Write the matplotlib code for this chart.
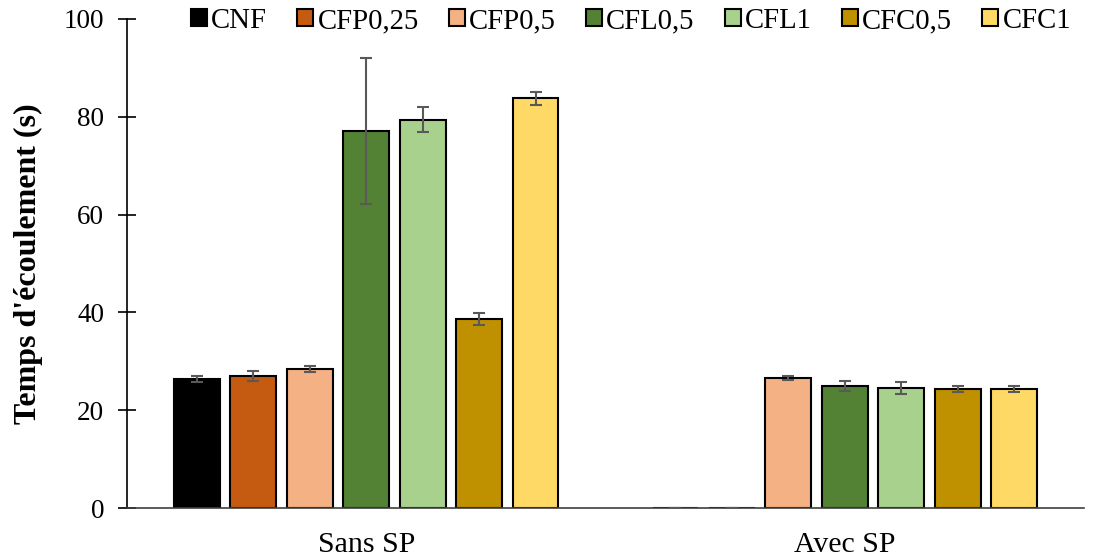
import matplotlib
matplotlib.use('Agg')
import numpy as np
import matplotlib.pyplot as plt

# données
groups = ["Sans SP", "Avec SP"]
series = ["CNF", "CFP0,25", "CFP0,5", "CFL0,5", "CFL1", "CFC0,5", "CFC1"]
colors = ["#000000", "#C55A11", "#F4B183", "#548235", "#A9D18E", "#BF9000", "#FFD966"]

cnf = [26.4, 0]
cfp025 = [27.0, 0]
cfp05 = [28.4, 26.6]
cfl05 = [77.1, 24.9]
cfl1 = [79.4, 24.6]
cfc05 = [38.7, 24.3]
cfc1 = [83.8, 24.3]

cnf_err = [0.6, 0]
cfp025_err = [1.0, 0]
cfp05_err = [0.6, 0.4]
cfl05_err = [15.0, 1.0]
cfl1_err = [2.6, 1.2]
cfc05_err = [1.2, 0.6]
cfc1_err = [1.3, 0.6]

values = [cnf, cfp025, cfp05, cfl05, cfl1, cfc05, cfc1]
errors = [cnf_err, cfp025_err, cfp05_err, cfl05_err, cfl1_err, cfc05_err, cfc1_err]

plt.rcParams['font.family'] = ['Liberation Serif', 'DejaVu Serif']

fig = plt.figure(figsize=(11.06, 5.57), dpi=100)
ax = fig.add_axes([127 / 1106, 49 / 557, 957 / 1106, 489 / 557])

x = np.arange(len(groups))
step = 0.118
width = 0.0955
for i, (name, vals, errs, c) in enumerate(zip(series, values, errors, colors)):
    pos = x + (i - 3) * step
    ax.bar(pos, vals, width, color=c, edgecolor='black', linewidth=1.5, label=name, zorder=2)
    ax.errorbar(pos, vals, yerr=errs, fmt='none', ecolor='#595959', elinewidth=1.5,
                capsize=4.5, capthick=1.5, zorder=3)

ax.set_xlim(-0.5, 1.5)
ax.set_ylim(0, 100)
ax.set_yticks(np.arange(0, 101, 20))
ax.set_xticks(x)
ax.set_xticklabels(groups, fontsize=21.5)
ax.tick_params(axis='y', labelsize=19.5, length=13, width=1.2, direction='inout', pad=10)
ax.tick_params(axis='x', length=0, pad=17)
for s in ['top', 'right']:
    ax.spines[s].set_visible(False)
ax.spines['left'].set_linewidth(1.2)
ax.spines['bottom'].set_linewidth(1.2)
ax.spines['bottom'].set_color('#404040')

ax.set_ylabel("Temps d'écoulement (s)", fontsize=23, fontweight='bold')
ax.yaxis.set_label_coords(-0.088, 0.5)

ax.legend(ncol=7, loc='upper left', bbox_to_anchor=(191 / 1106, 549 / 557),
          bbox_transform=fig.transFigure, frameon=False, fontsize=20.7,
          handlelength=0.55, handleheight=0.55, handletextpad=0.15,
          columnspacing=1.05, borderaxespad=0, borderpad=0)

plt.savefig("out.png", dpi=100)
